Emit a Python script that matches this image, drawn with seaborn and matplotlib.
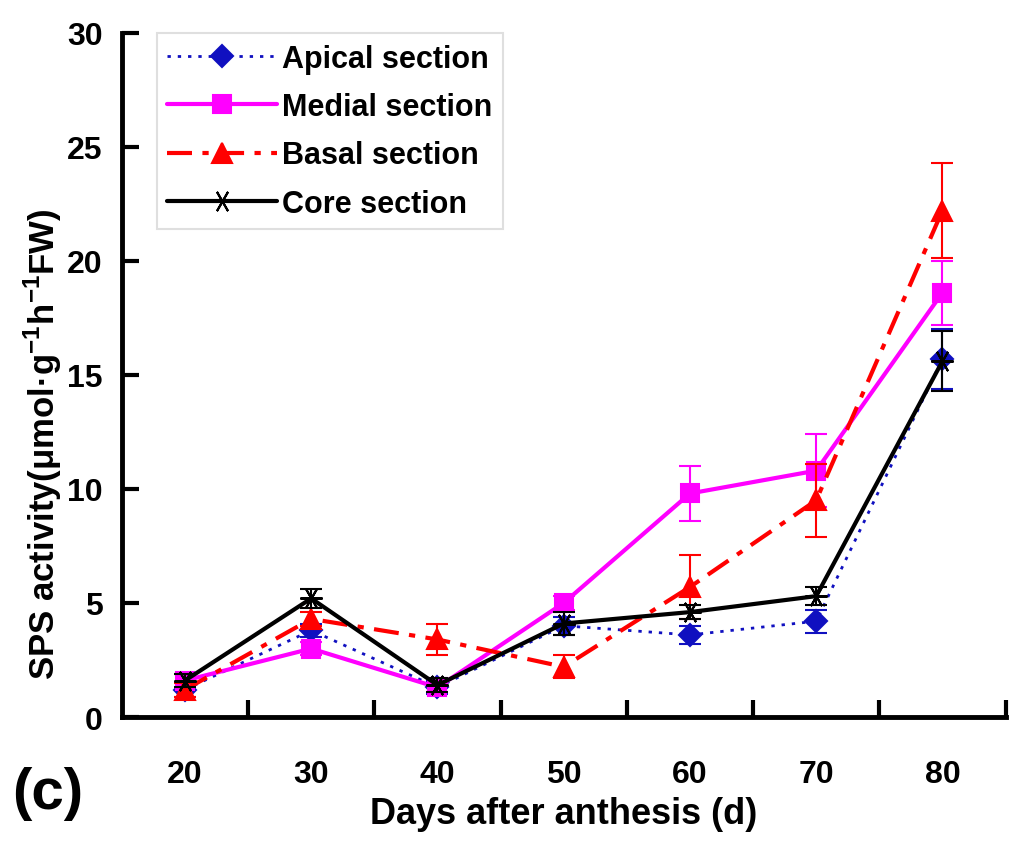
import numpy as np
import pandas as pd
import matplotlib
matplotlib.use("Agg")
import matplotlib.pyplot as plt
import seaborn as sns

# values
days = [20, 30, 40, 50, 60, 70, 80]
apical = [1.2, 3.8, 1.3, 4.0, 3.6, 4.2, 15.7]
apical_err = [0.3, 0.3, 0.3, 0.4, 0.4, 0.5, 1.3]
medial = [1.6, 3.0, 1.3, 5.0, 9.8, 10.8, 18.6]
medial_err = [0.3, 0.3, 0.2, 0.3, 1.2, 1.6, 1.4]
basal = [1.2, 4.3, 3.4, 2.2, 5.7, 9.5, 22.2]
basal_err = [0.3, 0.3, 0.7, 0.5, 1.4, 1.6, 2.1]
core = [1.6, 5.2, 1.4, 4.1, 4.6, 5.3, 15.6]
core_err = [0.3, 0.4, 0.3, 0.5, 0.3, 0.4, 1.3]

names = ["Apical section", "Medial section", "Basal section", "Core section"]
series = [apical, medial, basal, core]
errors = [apical_err, medial_err, basal_err, core_err]

sns.set_style("white")
plt.rcParams['font.family'] = ['Liberation Sans', 'DejaVu Sans']
plt.rcParams['font.weight'] = 'bold'
plt.rcParams['text.color'] = 'black'
plt.rcParams['axes.labelcolor'] = 'black'
plt.rcParams['xtick.color'] = 'black'
plt.rcParams['ytick.color'] = 'black'
plt.rcParams['mathtext.fontset'] = 'custom'
plt.rcParams['mathtext.rm'] = 'Liberation Sans:bold'
plt.rcParams['mathtext.bf'] = 'Liberation Sans:bold'

styles = [
    dict(color='#1010c0', marker='D', ms=11, ls=(0, (1.2, 2.5)), lw=2),
    dict(color='#ff00ff', marker='s', ms=13, ls='-', lw=3),
    dict(color='#ff0000', marker='^', ms=14, ls=(0, (6, 2.5, 1.5, 2.5)), lw=3),
    dict(color='black', marker=(6, 2, 90), ms=16, ls='-', lw=3),
]

fig = plt.figure(figsize=(10.24, 8.62), dpi=100)
ax = fig.add_axes([0.119, 0.167, 0.863, 0.794])

for name, vals, err, st in zip(names, series, errors, styles):
    df = pd.DataFrame({'day': days, 'val': vals})
    sns.lineplot(data=df, x='day', y='val', ax=ax, color=st['color'],
                 linestyle=st['ls'], linewidth=st['lw'], marker=st['marker'],
                 markersize=st['ms'], markeredgecolor=st['color'],
                 markeredgewidth=1.5, label=name)
    ax.errorbar(days, vals, yerr=err, fmt='none', ecolor=st['color'],
                elinewidth=1.5, capsize=8, capthick=1.5)

ax.set_xlim(15, 85)
ax.set_ylim(0, 30)
ax.set_yticks(np.arange(0, 31, 5))
ax.set_xticks(np.arange(25, 86, 10))
ax.set_xticklabels([])
ax.set_xticks(days, minor=True)
ax.set_xticklabels([str(d) for d in days], minor=True)
ax.tick_params(axis='x', which='major', direction='in', length=12, width=3,
               bottom=True)
ax.tick_params(axis='x', which='minor', length=0, pad=30, labelsize=23,
               bottom=True)
ax.tick_params(axis='y', direction='in', length=12, width=3, pad=14,
               labelsize=23, left=True)
for lab in ax.get_xticklabels(minor=True) + ax.get_yticklabels():
    lab.set_fontweight('bold')

for s in ['top', 'right']:
    ax.spines[s].set_visible(False)
for s in ['left', 'bottom']:
    ax.spines[s].set_linewidth(3.5)
    ax.spines[s].set_color('black')

ax.set_xlabel("Days after anthesis (d)", fontsize=26, fontweight='bold')
ax.xaxis.set_label_coords(0.5, -0.115)
ax.set_ylabel("SPS activity(\u03bcmol\u00b7g$^{-1}$h$^{-1}$FW)", fontsize=25,
              fontweight='bold')
ax.yaxis.set_label_coords(-0.066, 0.40)

leg = ax.legend(loc='upper left', bbox_to_anchor=(0.022, 1.022), fontsize=22,
                frameon=True, fancybox=False, edgecolor='#d8d8d8',
                handlelength=3.6, borderpad=0.35, labelspacing=0.6,
                handletextpad=0.15)
leg.get_frame().set_linewidth(1.5)
for t in leg.get_texts():
    t.set_fontweight('bold')

fig.text(0.012, 0.062, "(c)", fontsize=42, fontweight='bold')

fig.savefig("out.png", dpi=100)
